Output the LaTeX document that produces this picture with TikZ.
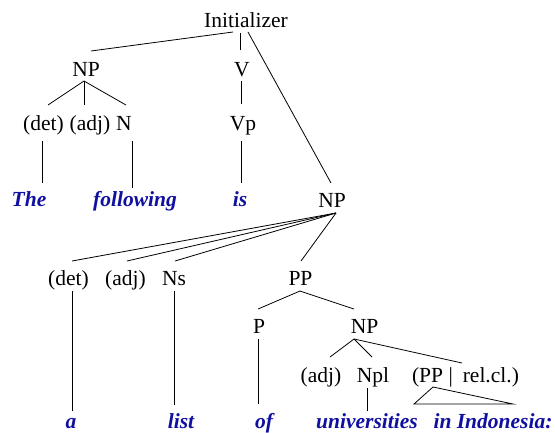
\documentclass[tikz,border=0pt]{standalone}
\usepackage{fontspec}
\setmainfont{Liberation Serif}
\newfontfamily\tmsfont{Liberation Serif}
\usetikzlibrary{calc}
\definecolor{wordblue}{RGB}{16,16,160}
\begin{document}
\begin{tikzpicture}[x=1pt,y=-1pt,
  lab/.style={anchor=base,inner sep=0pt,font=\tmsfont\fontsize{21.5}{26}\selectfont},
  word/.style={lab,text=wordblue,font=\tmsfont\fontsize{21.5}{26}\selectfont\bfseries\itshape},
  edge/.style={line width=0.8pt}]
\useasboundingbox (0,0) rectangle (555,432);
% labels
\node[lab] (ini) at (246,27) {Initializer};
\node[lab] (np1) at (86,76) {NP};
\node[lab] (v) at (242,76) {V};
\node[lab] (det1) at (43.5,130) {(det)};
\node[lab] (adj1) at (90,130) {(adj)};
\node[lab] (n1) at (124,130) {N};
\node[lab] (vp) at (243,130) {Vp};
\node[word] (the) at (29,206) {The};
\node[word] (following) at (135,206) {following};
\node[word] (is) at (240,206) {is};
\node[lab] (np2) at (332,207) {NP};
\node[lab] (det2) at (68.5,285) {(det)};
\node[lab] (adj2) at (125.5,285) {(adj)};
\node[lab] (ns) at (174,285) {Ns};
\node[lab] (pp) at (300.5,285) {PP};
\node[lab] (p) at (259,333) {P};
\node[lab] (np3) at (364.5,333) {NP};
\node[lab] (adj3) at (321,382) {(adj)};
\node[lab] (npl) at (373,382) {Npl};
\node[lab] (ppr) at (465.5,382) {(PP |\hspace{10pt}rel.cl.)};
\node[word] (a) at (71,428) {a};
\node[word] (list) at (181,428) {list};
\node[word] (of) at (264,428) {of};
\node[word] (univ) at (367,428) {universities};
\node[word] (indo) at (493,428) {in Indonesia:};
% connectors
\draw[edge] ($(ini.base)+(-13,5)$) -- ($(np1.base)+(5,-25)$);
\draw[edge] ($(ini.base)+(-6,6)$) -- ($(v.base)+(-2,-26)$);
\draw[edge] ($(ini.base)+(2,5)$) -- ($(np2.base)+(-1,-24)$);
\draw[edge] ($(np1.base)+(-2,5)$) -- ($(det1.base)+(4.5,-25)$);
\draw[edge] ($(np1.base)+(-2,5)$) -- ($(adj1.base)+(-6,-25)$);
\draw[edge] ($(np1.base)+(-2,5)$) -- ($(n1.base)+(2,-25)$);
\draw[edge] ($(det1.base)+(-1.5,11)$) -- ($(the.base)+(13,-23)$);
\draw[edge] ($(n1.base)+(8,11)$) -- ($(following.base)+(-3,-18)$);
\draw[edge] ($(v.base)+(-1,5)$) -- ($(vp.base)+(-2,-26)$);
\draw[edge] ($(vp.base)+(-2,11)$) -- ($(is.base)+(1,-23)$);
\draw[edge] ($(np2.base)+(4,6)$) -- ($(det2.base)+(3.5,-24)$);
\draw[edge] ($(np2.base)+(4,6)$) -- ($(adj2.base)+(1.5,-24)$);
\draw[edge] ($(np2.base)+(4,6)$) -- ($(ns.base)+(1,-24)$);
\draw[edge] ($(np2.base)+(4,6)$) -- ($(pp.base)+(0.5,-24)$);
\draw[edge] ($(pp.base)+(-0.5,6)$) -- ($(p.base)+(-1,-24)$);
\draw[edge] ($(pp.base)+(-0.5,6)$) -- ($(np3.base)+(-10.5,-24)$);
\draw[edge] ($(p.base)+(-1,6)$) -- ($(of.base)+(-6,-24)$);
\draw[edge] ($(det2.base)+(3.5,6)$) -- ($(a.base)+(1,-17)$);
\draw[edge] ($(ns.base)+(0,6)$) -- ($(list.base)+(-7,-23)$);
\draw[edge] ($(np3.base)+(-10.5,6)$) -- ($(adj3.base)+(9,-25)$);
\draw[edge] ($(np3.base)+(-10.5,6)$) -- ($(npl.base)+(-1,-25)$);
\draw[edge] ($(np3.base)+(-10.5,6)$) -- ($(ppr.base)+(-3.5,-19)$);
\draw[edge] ($(npl.base)+(-6,6)$) -- ($(univ.base)+(0,-17)$);
\draw[edge] ($(ppr.base)+(-32.5,5)$) -- ($(ppr.base)+(-51.5,22)$) -- ($(ppr.base)+(47.5,22)$) -- cycle;
\end{tikzpicture}
\end{document}
